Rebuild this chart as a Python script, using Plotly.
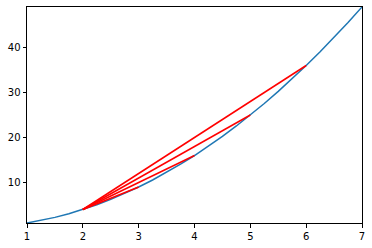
import plotly.graph_objects as go

curve_x = [1, 1.25, 1.5, 1.75, 2, 2.25, 2.5, 2.75, 3, 3.25, 3.5, 3.75, 4,
           4.25, 4.5, 4.75, 5, 5.25, 5.5, 5.75, 6, 6.25, 6.5, 6.75, 7]
curve_y = [1, 1.5625, 2.25, 3.0625, 4, 5.0625, 6.25, 7.5625, 9, 10.5625,
           12.25, 14.0625, 16, 18.0625, 20.25, 22.5625, 25, 27.5625, 30.25,
           33.0625, 36, 39.0625, 42.25, 45.5625, 49]

secant_start = (2, 4)
secant_end_x = [3, 4, 5, 6]
secant_end_y = [9, 16, 25, 36]

x_ticks = [1, 2, 3, 4, 5, 6, 7]
y_ticks = [10, 20, 30, 40]

fig = go.Figure()
fig.add_trace(go.Scatter(x=curve_x, y=curve_y, mode="lines",
                         line=dict(color="#1f77b4", width=1.5), showlegend=False))
for ex, ey in zip(secant_end_x, secant_end_y):
    fig.add_trace(go.Scatter(x=[secant_start[0], ex], y=[secant_start[1], ey],
                             mode="lines", line=dict(color="red", width=1.5),
                             showlegend=False))

axis_common = dict(showline=True, linecolor="black", linewidth=1, mirror=True,
                   ticks="outside", ticklen=3.5, tickwidth=1, tickcolor="black",
                   showgrid=False, zeroline=False,
                   tickfont=dict(family="DejaVu Sans", size=10, color="black"))
fig.update_xaxes(range=[1, 7], tickvals=x_ticks, **axis_common)
fig.update_yaxes(range=[1, 49], tickvals=y_ticks, **axis_common)
fig.update_layout(width=372, height=248, margin=dict(l=27, r=10, t=6, b=24),
                  paper_bgcolor="white", plot_bgcolor="white")
fig.write_html("out.html")
